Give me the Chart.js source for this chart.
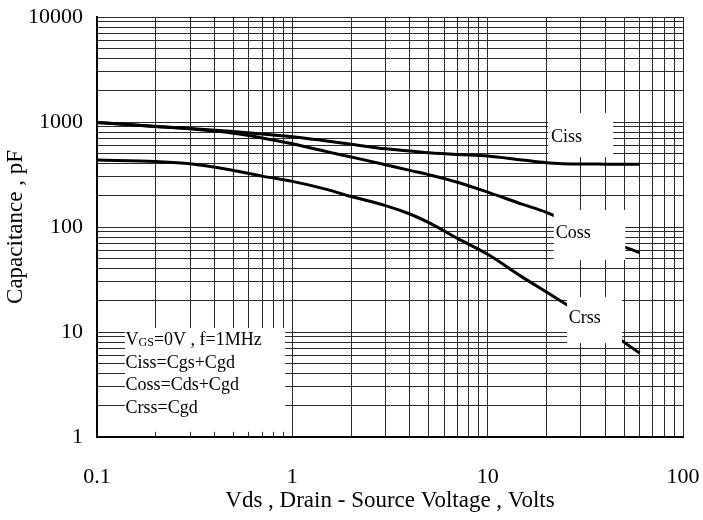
<!DOCTYPE html>
<html>
<head>
<meta charset="utf-8">
<script src="https://cdn.jsdelivr.net/npm/chart.js@4.4.1/dist/chart.umd.min.js"></script>
<style>
  html, body { margin: 0; padding: 0; background: #fff; }
  #wrap { width: 703px; height: 520px; }
</style>
</head>
<body>
<div id="wrap"><canvas id="capChart"></canvas></div>
<script>
// drain-source voltage (V) and capacitances (pF)
const vds  = [0.1, 0.2, 0.3, 0.5, 0.7, 1, 1.5, 2, 3, 4, 5, 7, 10, 15, 20, 30, 40, 60];
const ciss = [990, 905, 865, 810, 770, 725, 660, 615, 555, 530, 510, 490, 475, 435, 410, 398, 397, 395];
const coss = [990, 905, 860, 780, 705, 620, 522, 464, 392, 346, 315, 267, 215, 165, 138, 98, 76, 57];
const crss = [435, 420, 400, 345, 305, 272, 228, 195, 160, 133, 110, 78, 55, 33.5, 24, 15, 10.6, 6.3];

const xTickLabels = ['0.1', '1', '10', '100'];
const yTickLabels = ['1', '10', '100', '1000', '10000'];

const FONT = "'Liberation Serif', 'Times New Roman', serif";

function logTicks(min, max) {
    let out = [];
    for (let d = min; d < max; d *= 10) {
        for (let m = 1; m < 10; m++) out.push(Number((m * d).toPrecision(6)));
    }
    out.push(max);
    return out;
}

function pts(ys) {
    return vds.map((v, i) => ({ x: v, y: ys[i] }));
}

function curve(label, ys) {
    return {
        label: label,
        data: pts(ys),
        borderColor: '#000',
        borderWidth: 3,
        pointRadius: 0,
        fill: false,
        cubicInterpolationMode: 'monotone'
    };
}

// keep the plot area where the layout padding says
function noPad(s) {
    s.paddingTop = 0; s.paddingBottom = 0; s.paddingLeft = 0; s.paddingRight = 0;
}

// white label boxes sitting on the grid (data coords)
const notes = [
    { box: [20.4, 43.9, 1218, 464], text: 'Ciss', at: [21.1, 720] },
    { box: [21.8, 50.6, 145, 48.5], text: 'Coss', at: [22.3, 87.7] },
    { box: [25.5, 48.8, 21.5, 7.85], text: 'Crss', at: [26, 13.6] },
    { box: [0.139, 0.918, 10.9, 1.12], text: null }
];
const legendLines = ['Ciss=Cgs+Cgd', 'Coss=Cds+Cgd', 'Crss=Cgd'];

const notesPlugin = {
    id: 'notes',
    afterDatasetsDraw(chart) {
        const ctx = chart.ctx;
        const xs = chart.scales.x, ys = chart.scales.y;
        ctx.save();
        ctx.fillStyle = '#fff';
        notes.forEach(n => {
            const x0 = xs.getPixelForValue(n.box[0]), x1 = xs.getPixelForValue(n.box[1]);
            const y0 = ys.getPixelForValue(n.box[2]), y1 = ys.getPixelForValue(n.box[3]);
            ctx.fillRect(x0, y0, x1 - x0, y1 - y0);
        });
        ctx.fillStyle = '#000';
        ctx.textBaseline = 'middle';
        ctx.textAlign = 'left';
        ctx.font = '18px ' + FONT;
        notes.forEach(n => {
            if (!n.text) return;
            ctx.fillText(n.text, xs.getPixelForValue(n.at[0]), ys.getPixelForValue(n.at[1]));
        });
        // conditions block, lower left
        const lx = xs.getPixelForValue(0.14);
        let y = ys.getPixelForValue(8.4);
        ctx.fillText('V', lx, y);
        let w = ctx.measureText('V').width;
        ctx.font = '12px ' + FONT;
        ctx.fillText('GS', lx + w, y + 3);
        w += ctx.measureText('GS').width;
        ctx.font = '18px ' + FONT;
        ctx.fillText('=0V , f=1MHz', lx + w, y);
        [5.07, 3.13, 1.89].forEach((v, i) => {
            ctx.fillText(legendLines[i], lx, ys.getPixelForValue(v));
        });
        ctx.restore();
    }
};

new Chart(document.getElementById('capChart'), {
    type: 'line',
    data: {
        datasets: [curve('Ciss', ciss), curve('Coss', coss), curve('Crss', crss)]
    },
    options: {
        responsive: true,
        maintainAspectRatio: false,
        animation: false,
        layout: { padding: { left: 0, right: 20, top: 17, bottom: 0 } },
        plugins: {
            legend: { display: false },
            tooltip: { enabled: false }
        },
        scales: {
            x: {
                type: 'logarithmic',
                min: 0.1,
                max: 100,
                afterBuildTicks: s => { s.ticks = logTicks(0.1, 100).map(v => ({ value: v })); },
                afterFit: s => { s.height = 83; noPad(s); },
                grid: { color: '#2a2a2a', lineWidth: 1, drawTicks: false },
                border: { display: true, color: '#000', width: 2 },
                ticks: {
                    autoSkip: false,
                    maxRotation: 0,
                    padding: 27,
                    color: '#000',
                    font: { family: FONT, size: 22 },
                    callback: v => {
                        const s = String(Number(v.toPrecision(6)));
                        return xTickLabels.includes(s) ? s : '';
                    }
                },
                title: {
                    display: true,
                    text: 'Vds , Drain - Source Voltage , Volts',
                    color: '#000',
                    font: { family: FONT, size: 23 },
                    padding: { top: 0, bottom: 5 }
                }
            },
            y: {
                type: 'logarithmic',
                min: 1,
                max: 10000,
                afterBuildTicks: s => { s.ticks = logTicks(1, 10000).map(v => ({ value: v })); },
                afterFit: s => { s.width = 97; noPad(s); },
                grid: { color: '#2a2a2a', lineWidth: 1, drawTicks: false },
                border: { display: true, color: '#000', width: 2 },
                ticks: {
                    autoSkip: false,
                    padding: 14,
                    color: '#000',
                    font: { family: FONT, size: 22 },
                    callback: v => {
                        const s = String(Number(v.toPrecision(6)));
                        return yTickLabels.includes(s) ? s : '';
                    }
                },
                title: {
                    display: true,
                    text: 'Capacitance , pF',
                    color: '#000',
                    font: { family: FONT, size: 23 },
                    padding: { top: 2, bottom: 0 }
                }
            }
        }
    },
    plugins: [notesPlugin]
});
</script>
</body>
</html>
